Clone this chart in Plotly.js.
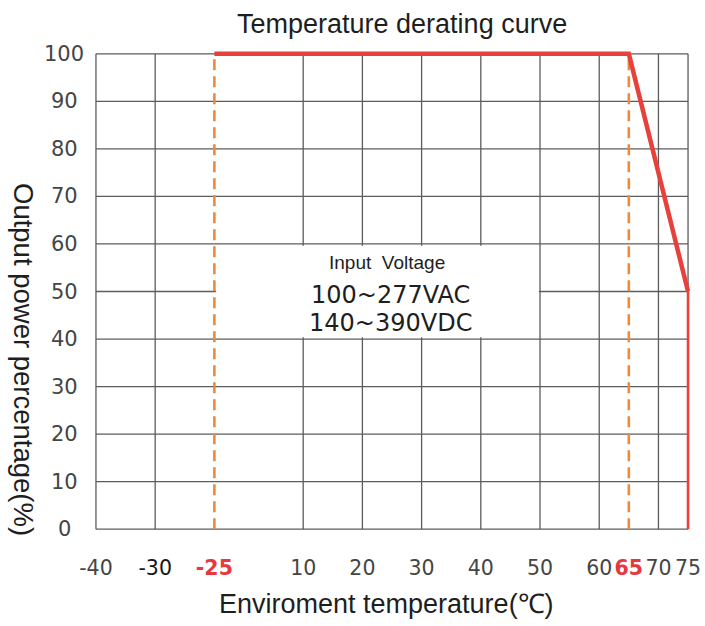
<!DOCTYPE html>
<html>
<head>
<meta charset="utf-8">
<script src="https://cdn.plot.ly/plotly-3.0.1.min.js"></script>
<style>
  html, body { margin: 0; padding: 0; background: #fff; }
  #chart { width: 705px; height: 626px; }
</style>
</head>
<body>
<div id="chart"></div>
<script>
// ---- data ----
const tickTemps  = [-40, -30, -25, 10, 20, 30, 40, 50, 60, 65, 70, 75];
const tickLabels = ['-40', '-30', '-25', '10', '20', '30', '40', '50', '60', '65', '70', '75'];
const highlightTemps = [-25, 65];          // red bold tick labels / dashed guides
const darkTemps = [-30];
const gridTemps  = [-40, -30, 10, 20, 30, 40, 50, 60, 70, 75];
const yTicks     = [0, 10, 20, 30, 40, 50, 60, 70, 80, 90, 100];

const derateTemp  = [-25, 65, 75];
const deratePower = [100, 100, 50];
const cutoffTemp  = [75, 75];
const cutoffPower = [50, 0];

const noteLines = ['Input  Voltage', '100~277VAC', '140~390VDC'];

// ---- broken (non-uniform) temperature axis as drawn in the chart ----
const tickSlots = [0, 1, 2, 3.5, 4.5, 5.5, 6.5, 7.5, 8.5, 9, 9.5, 10];
function pos(t) {
  for (let i = 0; i < tickTemps.length - 1; i++) {
    const a = tickTemps[i], b = tickTemps[i + 1];
    if (t >= a && t <= b) {
      return tickSlots[i] + (t - a) / (b - a) * (tickSlots[i + 1] - tickSlots[i]);
    }
  }
  return t < tickTemps[0] ? tickSlots[0] : tickSlots[tickSlots.length - 1];
}

const RED = '#e8403b';
const ORANGE = '#f0893a';
const GRID = '#5c5c5c';
const TICKC = '#454545';

// dashed guides
const gx = [], gy = [];
highlightTemps.forEach(t => { gx.push(pos(t), pos(t), null); gy.push(0, 100, null); });

const traces = [
  { x: gx, y: gy, mode: 'lines', line: { color: ORANGE, width: 2.6, dash: '11px,6px' }, hoverinfo: 'skip', showlegend: false },
  { x: derateTemp.map(pos), y: deratePower, mode: 'lines', line: { color: RED, width: 4.5 }, showlegend: false },
  { x: cutoffTemp.map(pos), y: cutoffPower, mode: 'lines', line: { color: RED, width: 2.6 }, showlegend: false }
];

// grid shapes
const shapes = [];
const xMin = pos(tickTemps[0]), xMax = pos(tickTemps[tickTemps.length - 1]);
yTicks.forEach(v => shapes.push({ type: 'line', xref: 'x', yref: 'y', x0: xMin, x1: xMax, y0: v, y1: v, line: { color: GRID, width: 1.3 }, layer: 'below' }));
gridTemps.forEach(t => shapes.push({ type: 'line', xref: 'x', yref: 'y', x0: pos(t), x1: pos(t), y0: 0, y1: 100, line: { color: GRID, width: 1.3 }, layer: 'below' }));
// white label box covering the grid
shapes.push({ type: 'rect', xref: 'x', yref: 'y', x0: pos(-25) + 0.03, x1: pos(50) - 0.02, y0: 40.35, y1: 59.65, fillcolor: '#ffffff', line: { width: 0 }, layer: 'below' });

// tick labels
const tickText = tickTemps.map((t, i) => {
  if (highlightTemps.includes(t)) return '<b><span style="color:#e8383d">' + tickLabels[i] + '</span></b>';
  if (darkTemps.includes(t)) return '<span style="color:#151515">' + tickLabels[i] + '</span>';
  return tickLabels[i];
});

const annotations = [];
// y tick labels (centered as in original)
yTicks.forEach(v => annotations.push({
  xref: 'paper', yref: 'y', x: (64 - 93) / 598, y: v, text: String(v), showarrow: false,
  xanchor: 'center', yanchor: 'middle', font: { family: 'DejaVu Sans', size: 21, color: TICKC }
}));
// titles
annotations.push({ xref: 'paper', yref: 'paper', x: (402 - 93) / 598, y: (532 - 24) / 481, text: 'Temperature derating curve',
  showarrow: false, xanchor: 'center', yanchor: 'middle', font: { family: 'Liberation Sans', size: 27, color: '#1e1e1e' } });
annotations.push({ xref: 'paper', yref: 'paper', x: (386 - 93) / 598, y: (532 - 604) / 481, text: 'Enviroment temperature(℃)',
  showarrow: false, xanchor: 'center', yanchor: 'middle', font: { family: 'Liberation Sans', size: 27, color: '#1e1e1e' } });
annotations.push({ xref: 'paper', yref: 'paper', x: (24 - 93) / 598, y: (532 - 359) / 481, text: 'Output power percentage(%)',
  showarrow: false, xanchor: 'center', yanchor: 'middle', textangle: 90, font: { family: 'Liberation Sans', size: 27.5, color: '#1e1e1e' } });
// note text
annotations.push({ xref: 'paper', yref: 'paper', x: (387 - 93) / 598, y: (532 - 262) / 481, text: noteLines[0],
  showarrow: false, xanchor: 'center', yanchor: 'middle', font: { family: 'Liberation Sans', size: 19, color: '#1e1e1e' } });
annotations.push({ xref: 'paper', yref: 'paper', x: (390 - 93) / 598, y: (532 - 295) / 481, text: noteLines[1],
  showarrow: false, xanchor: 'center', yanchor: 'middle', font: { family: 'DejaVu Sans', size: 24, color: '#1e1e1e' } });
annotations.push({ xref: 'paper', yref: 'paper', x: (390 - 93) / 598, y: (532 - 323) / 481, text: noteLines[2],
  showarrow: false, xanchor: 'center', yanchor: 'middle', font: { family: 'DejaVu Sans', size: 24, color: '#1e1e1e' } });

const layout = {
  width: 705, height: 626,
  margin: { l: 93, r: 14, t: 51, b: 94 },
  paper_bgcolor: '#ffffff', plot_bgcolor: '#ffffff',
  showlegend: false,
  xaxis: {
    range: [-0.05, 10.05], fixedrange: true,
    tickmode: 'array', tickvals: tickTemps.map(pos), ticktext: tickText,
    tickangle: 0,
    showgrid: false, zeroline: false, showline: false, ticks: '',
    ticklabelstandoff: 21,
    tickfont: { family: 'DejaVu Sans', size: 20.5, color: TICKC }
  },
  yaxis: {
    range: [-0.6, 100.6], fixedrange: true,
    showgrid: false, zeroline: false, showline: false, ticks: '',
    showticklabels: false
  },
  shapes: shapes,
  annotations: annotations
};

Plotly.newPlot('chart', traces, layout, { displayModeBar: false, staticPlot: true });
</script>
</body>
</html>
